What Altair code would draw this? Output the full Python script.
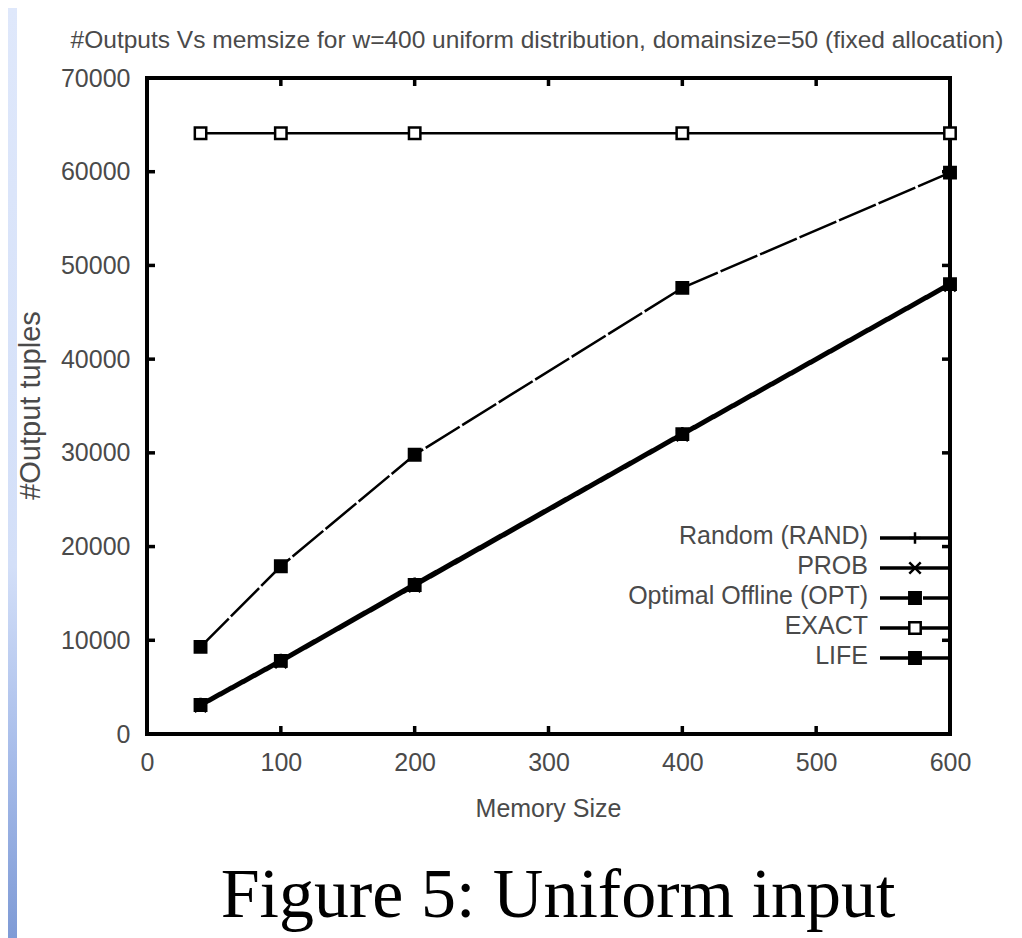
import altair as alt
import pandas as pd

# ---- data ----
mem_size = [40, 100, 200, 400, 600]
series_order = ["Random (RAND)", "PROB", "Optimal Offline (OPT)", "EXACT", "LIFE"]
rand_vals = [3250, 7950, 16100, 32150, 48150]
prob_vals = [2950, 7650, 15750, 31850, 47850]
opt_vals = [9300, 17900, 29800, 47600, 59900]
exact_vals = [64100, 64100, 64100, 64100, 64100]
life_vals = [3100, 7800, 15900, 32000, 48000]
y_tick_values = [0, 10000, 20000, 30000, 40000, 50000, 60000, 70000]
x_tick_values = [0, 100, 200, 300, 400, 500, 600]
y_inner_ticks = [10000, 20000, 30000, 40000, 50000, 60000]
x_inner_ticks = [100, 200, 300, 400, 500]
chart_title = "#Outputs Vs memsize for w=400 uniform distribution, domainsize=50 (fixed allocation)"
caption = "Figure 5:  Uniform input"

values = {
    "Random (RAND)": rand_vals,
    "PROB": prob_vals,
    "Optimal Offline (OPT)": opt_vals,
    "EXACT": exact_vals,
    "LIFE": life_vals,
}
rows = []
for s in series_order:
    for x, y in zip(mem_size, values[s]):
        rows.append({"series": s, "mem": x, "out": y})
df = pd.DataFrame(rows)
leg_df = pd.DataFrame({"series": series_order})

W, H = 803, 656
SANS = "Liberation Sans, Arial, sans-serif"
GRAY = "#4a4a4a"
FS = 25

xscale = alt.Scale(domain=[0, 600], nice=False, zero=False)
yscale = alt.Scale(domain=[0, 70000], nice=False)
xaxis = alt.Axis(values=x_tick_values, ticks=False, domain=False, grid=False,
                 labelFont=SANS, labelFontSize=FS, labelColor=GRAY, labelPadding=16,
                 labelFlush=False,
                 title="Memory Size", titleFont=SANS, titleFontSize=FS, titleColor=GRAY,
                 titleFontWeight="normal", titleX=401, titleY=74, titleBaseline="middle")
yaxis = alt.Axis(values=y_tick_values, ticks=False, domain=False, grid=False, format="d",
                 labelFont=SANS, labelFontSize=FS, labelColor=GRAY, labelPadding=17,
                 labelFlush=False,
                 title="#Output tuples", titleFont=SANS, titleFontSize=29,
                 titleColor=GRAY, titleFontWeight="normal", titleX=-117, titleY=327,
                 titleBaseline="middle", titleAlign="center")

def X(field):
    return alt.X(field, type="quantitative", scale=xscale, axis=xaxis)

def Y(field):
    return alt.Y(field, type="quantitative", scale=yscale, axis=yaxis)

shape_scale = alt.Scale(domain=series_order,
                        range=["M-1,0H1M0,-1V1", "M-1,-1L1,1M-1,1L1,-1", "square", "square", "square"])
fill_scale = alt.Scale(domain=series_order, range=["black", "black", "black", "white", "black"])
dash_scale = alt.Scale(domain=series_order, range=[[1, 0], [1, 0], [40, 3], [1, 0], [1, 0]])
width_scale = alt.Scale(domain=series_order, range=[2.5, 2.5, 2.5, 3.5, 2.5])

lines = alt.Chart(df).mark_line(color="black").encode(
    x=X("mem"), y=Y("out"), detail="series:N",
    strokeDash=alt.StrokeDash("series:N", scale=dash_scale, legend=None),
    strokeWidth=alt.StrokeWidth("series:N", scale=width_scale, legend=None),
)
points = alt.Chart(df).mark_point(filled=True, stroke="black", strokeWidth=2.5, opacity=1, size=130).encode(
    x=X("mem"), y=Y("out"),
    shape=alt.Shape("series:N", scale=shape_scale, legend=None),
    fill=alt.Fill("series:N", scale=fill_scale, legend=None),
)

ytick_df = pd.DataFrame({"v": y_inner_ticks})
xtick_df = pd.DataFrame({"v": x_inner_ticks})
tick_left = alt.Chart(ytick_df).mark_rule(color="black", strokeWidth=3.5).encode(
    y=Y("v"), x=alt.value(0), x2=alt.value(8))
tick_right = alt.Chart(ytick_df).mark_rule(color="black", strokeWidth=3.5).encode(
    y=Y("v"), x=alt.value(W - 8), x2=alt.value(W))
tick_bottom = alt.Chart(xtick_df).mark_rule(color="black", strokeWidth=3.5).encode(
    x=X("v"), y=alt.value(H - 8), y2=alt.value(H))
tick_top = alt.Chart(xtick_df).mark_rule(color="black", strokeWidth=3.5).encode(
    x=X("v"), y=alt.value(0), y2=alt.value(8))

main = alt.layer(tick_left, tick_right, tick_bottom, tick_top, lines, points)

# ---- manual gnuplot-style key (labels to the left of samples) ----
leg_y = alt.Y("series:N", sort=series_order,
              scale=alt.Scale(type="point", domain=series_order, range=[445, 595],
                              padding=0.5), axis=None)
leg_text = alt.Chart(leg_df).mark_text(align="right", baseline="middle", font=SANS,
                                       fontSize=FS, color=GRAY, dy=-2).encode(
    x=alt.value(721), y=leg_y, text="series:N")
leg_rule = alt.Chart(leg_df).mark_rule(color="black", strokeWidth=3.5).encode(
    x=alt.value(733), x2=alt.value(W), y=leg_y,
    strokeDash=alt.StrokeDash("series:N", scale=dash_scale, legend=None))
leg_pts = alt.Chart(leg_df).mark_point(filled=True, stroke="black", strokeWidth=2.5, opacity=1, size=130).encode(
    x=alt.value(768), y=leg_y,
    shape=alt.Shape("series:N", scale=shape_scale, legend=None),
    fill=alt.Fill("series:N", scale=fill_scale, legend=None))
legend = alt.layer(leg_rule, leg_pts, leg_text)

# ---- texts ----
title_mark = alt.Chart(pd.DataFrame({"t": [chart_title]})).mark_text(
    font=SANS, fontSize=24.5, color=GRAY, align="center", baseline="middle").encode(
    text="t:N", x=alt.value(390), y=alt.value(-37))
caption_mark = alt.Chart(pd.DataFrame({"t": [caption]})).mark_text(
    font="Liberation Serif, Times New Roman, serif", fontSize=70, color="black",
    align="center", baseline="alphabetic").encode(
    text="t:N", x=alt.value(411), y=alt.value(839))

# decorative slide border strip on the left
band = alt.Chart(pd.DataFrame({"a": [1]})).mark_rect(
    color=alt.Gradient(gradient="linear", x1=0, x2=0, y1=0, y2=1,
                       stops=[alt.GradientStop(color="#dfe8fb", offset=0),
                              alt.GradientStop(color="#d3dff8", offset=0.6),
                              alt.GradientStop(color="#a8bdea", offset=0.8),
                              alt.GradientStop(color="#7f9bd6", offset=1)])).encode(
    x=alt.value(-139), x2=alt.value(-130), y=alt.value(-70), y2=alt.value(H + 204))

chart = alt.layer(band, main, legend, title_mark, caption_mark).resolve_scale(
    y="independent"
).properties(
    width=W, height=H,
    padding={"left": 139, "top": 70, "right": 62, "bottom": 204},
    autosize=alt.AutoSizeParams(type="none"),
    background="white",
).configure_view(stroke="black", strokeWidth=4)

chart.save("out.html", embed_options={"renderer": "svg", "actions": False})
